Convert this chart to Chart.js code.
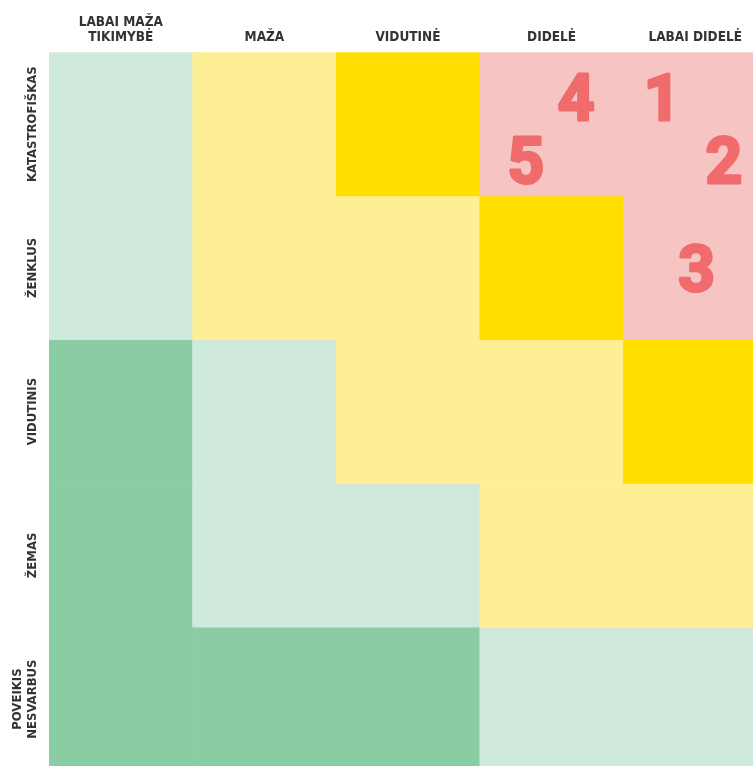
<!DOCTYPE html>
<html>
<head>
<meta charset="utf-8">
<script src="https://cdn.jsdelivr.net/npm/chart.js@4.4.0/dist/chart.umd.min.js"></script>
<style>
  html, body { margin: 0; padding: 0; background: #fff; overflow: hidden; }
  #wrap { width: 767px; height: 771px; position: relative; }
</style>
</head>
<body>
<div id="wrap"><canvas id="matrix"></canvas></div>
<script>
// tikimybė (columns) and poveikis (rows)
var likelihood = [['LABAI MAŽA', 'TIKIMYBĖ'], 'MAŽA', 'VIDUTINĖ', 'DIDELĖ', 'LABAI DIDELĖ'];
var impact = ['KATASTROFIŠKAS', 'ŽENKLUS', 'VIDUTINIS', 'ŽEMAS', ['POVEIKIS', 'NESVARBUS']];

// risk level of every cell, row by row from the top
var levels = [
  ['low', 'mid', 'high', 'crit', 'crit'],
  ['low', 'mid', 'mid', 'high', 'crit'],
  ['none', 'low', 'mid', 'mid', 'high'],
  ['none', 'low', 'low', 'mid', 'mid'],
  ['none', 'none', 'none', 'low', 'low']
];
var levelColors = {
  none: '#8acca4',
  low: '#cfe9dc',
  mid: '#feef96',
  high: '#ffde00',
  crit: '#f7c4c4'
};

// numbered risks placed on the matrix (x = tikimybė, y = poveikis, 0..5 from top-left)
var riskLabels = ['1', '2', '3', '4', '5'];
var riskX = [4.27, 4.70, 4.51, 3.67, 3.32];
var riskY = [0.31, 0.75, 1.50, 0.31, 0.75];

var textFont = 'DejaVu Sans Condensed';
var textColor = '#333333';

var datasets = levels.map(function (row, i) {
  return {
    label: Array.isArray(impact[i]) ? impact[i].join(' ') : impact[i],
    data: row.map(function () { return 1; }),
    backgroundColor: row.map(function (l) { return levelColors[l]; }),
    borderWidth: 0,
    barPercentage: 1,
    categoryPercentage: 1
  };
});

var rowLabels = {
  id: 'rowLabels',
  afterDraw: function (chart) {
    var ctx = chart.ctx;
    var y = chart.scales.y;
    ctx.save();
    ctx.fillStyle = textColor;
    ctx.font = 'bold 13px "' + textFont + '"';
    ctx.textAlign = 'center';
    ctx.textBaseline = 'alphabetic';
    impact.forEach(function (lab, i) {
      var lines = Array.isArray(lab) ? lab : [lab];
      ctx.save();
      ctx.translate(chart.chartArea.left - 13.5, y.getPixelForValue(i + 0.5));
      ctx.rotate(-Math.PI / 2);
      lines.forEach(function (t, k) {
        ctx.fillText(t, 0, -(lines.length - 1 - k) * 15);
      });
      ctx.restore();
    });
    ctx.restore();
  }
};

var riskNumbers = {
  id: 'riskNumbers',
  afterDatasetsDraw: function (chart) {
    var ctx = chart.ctx;
    var xs = chart.scales.x, ys = chart.scales.y;
    ctx.save();
    ctx.fillStyle = '#f06c6c';
    ctx.strokeStyle = '#f06c6c';
    ctx.lineWidth = 3;
    ctx.lineJoin = 'round';
    ctx.font = 'bold 64px Roboto';
    ctx.textAlign = 'center';
    ctx.textBaseline = 'alphabetic';
    riskLabels.forEach(function (t, i) {
      // category index i sits at i + 0.5 on the 0..5 grid
      var px = xs.getPixelForValue(riskX[i] - 0.5);
      var py = ys.getPixelForValue(riskY[i]) + 23;
      ctx.fillText(t, px, py);
      ctx.strokeText(t, px, py);
    });
    ctx.restore();
  }
};

new Chart(document.getElementById('matrix'), {
  type: 'bar',
  data: { labels: likelihood, datasets: datasets },
  options: {
    responsive: true,
    maintainAspectRatio: false,
    animation: false,
    layout: { padding: { left: 49, top: 8, right: 0, bottom: 0 } },
    plugins: { legend: { display: false }, tooltip: { enabled: false } },
    scales: {
      x: {
        position: 'top',
        stacked: true,
        grid: { display: false, drawTicks: false },
        border: { display: false },
        ticks: {
          color: textColor,
          padding: 7,
          maxRotation: 0,
          font: { family: textFont, size: 13.5, weight: 'bold', lineHeight: 1.12 }
        }
      },
      y: {
        stacked: true,
        reverse: true,
        min: 0,
        max: 5,
        display: false
      }
    }
  },
  plugins: [rowLabels, riskNumbers]
});
</script>
</body>
</html>
